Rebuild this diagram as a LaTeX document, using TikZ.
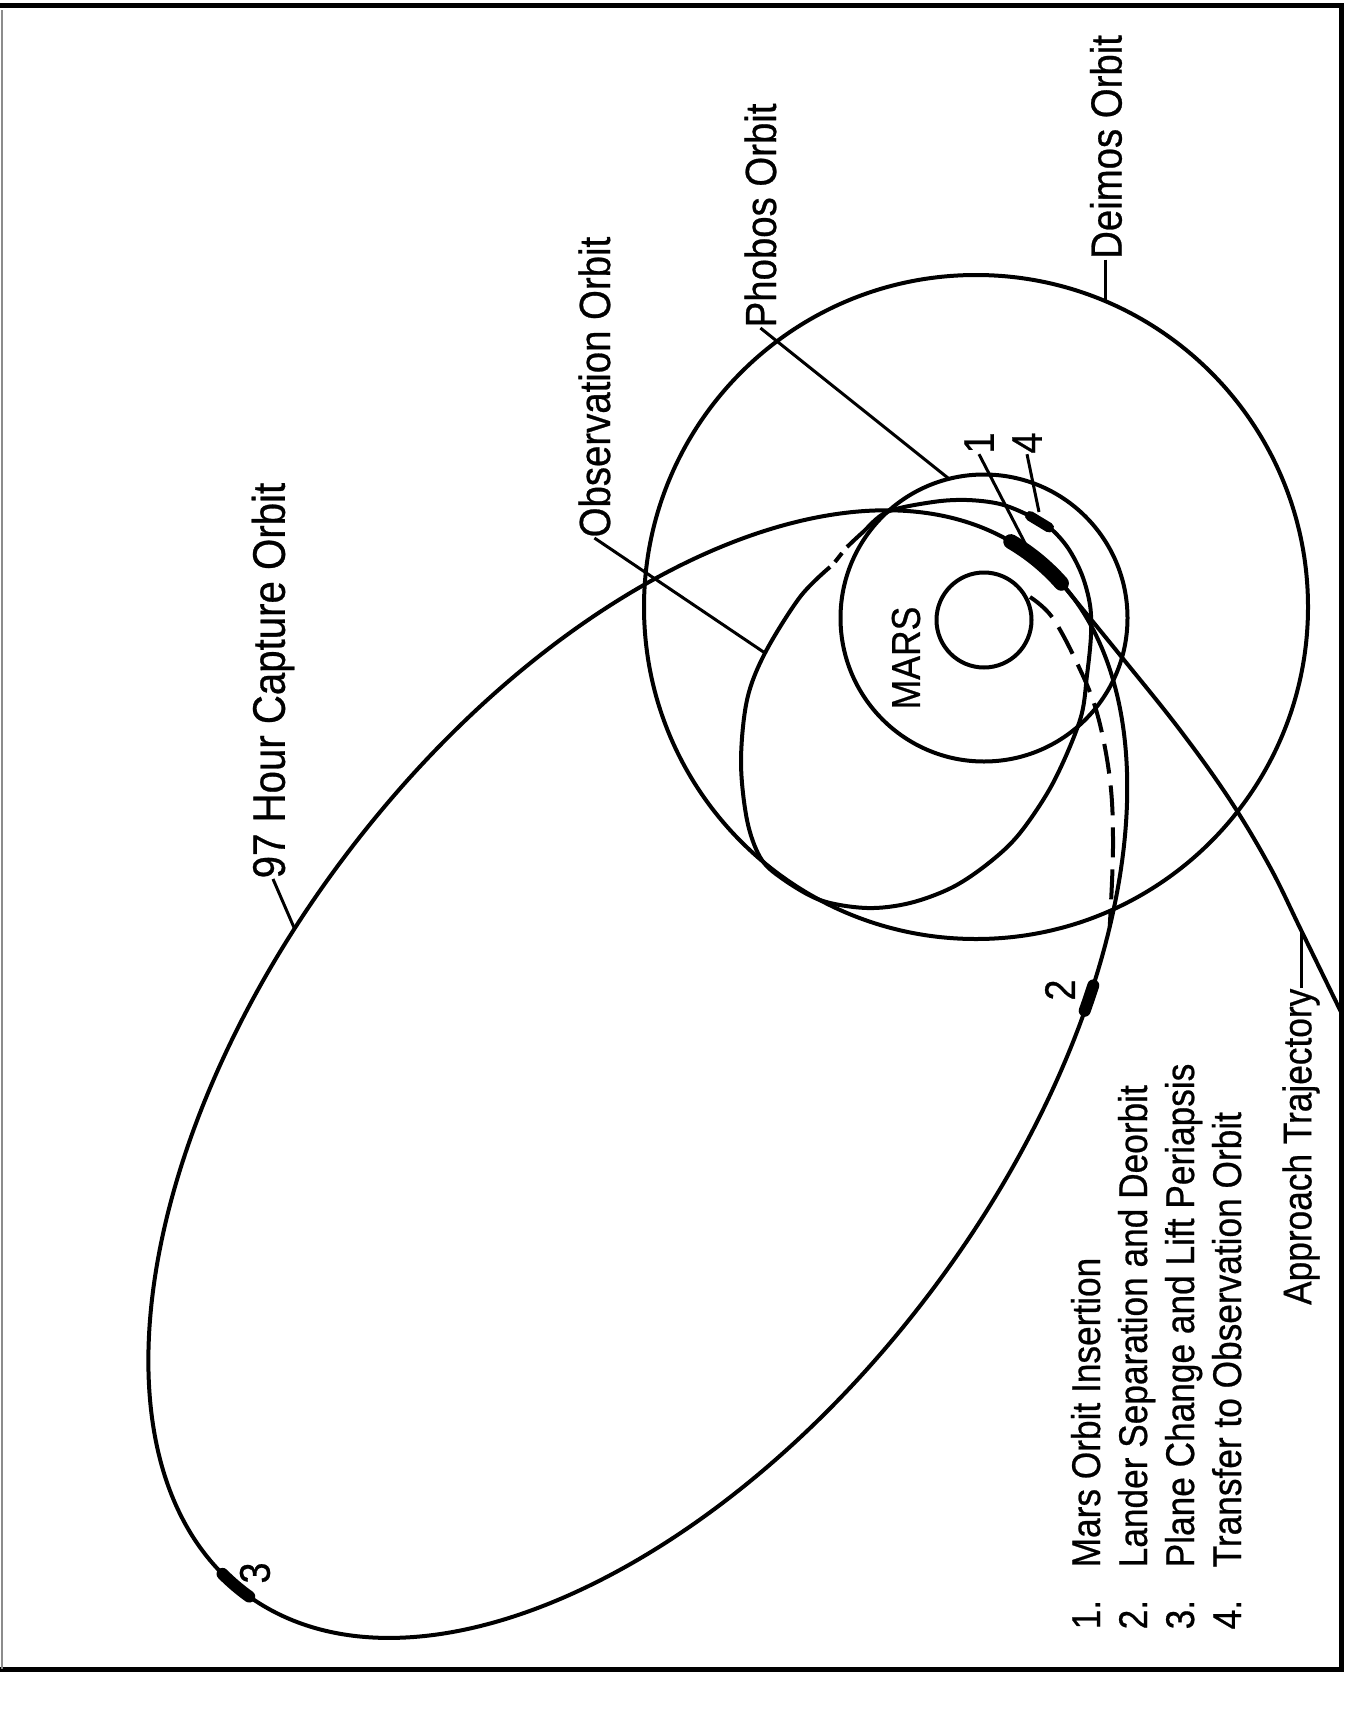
\documentclass[tikz,border=0pt]{standalone}
\usepackage{fontspec}
\setmainfont{Liberation Sans}[FakeStretch=0.88, FakeBold=0.6]
\usepackage{tikz}
\usetikzlibrary{calc, positioning}
\tikzset{
  orbit/.style={line width=0.4mm},
  leader/.style={line width=0.3mm},
  lander/.style={line width=0.4mm, dash pattern=on 3mm off 1.2mm},
  burn/.style={line width=1.2mm, line cap=round},
  lbl/.style={rotate=90, inner sep=0pt, font=\fontsize{12.4pt}{14pt}\selectfont},
  item/.style={rotate=90, inner sep=0pt, anchor=base west, font=\fontsize{11.4pt}{13pt}\selectfont},
  tag/.style={rotate=90, inner sep=0pt, font=\fontsize{12.2pt}{14pt}\selectfont}
}
\begin{document}
\begin{tikzpicture}
  \useasboundingbox (0,0) rectangle (13.58,-17.29);
  \draw[line width=0.5mm] (0,-0.05) -- (13.41,-0.05) -- (13.41,-16.69) -- (0,-16.69);
  \draw[line width=0.15mm, black!45] (0.02,-0.1) -- (0.02,-16.69);

  \coordinate (mars) at (9.84,-6.20);
  \coordinate (phobos) at (9.84,-6.18);
  \coordinate (deimos) at (9.76,-6.07);
  \draw[orbit] (mars) circle (0.475);
  \draw[orbit] (phobos) circle (1.435);
  \draw[orbit] (deimos) circle (3.32);
  \node[rotate=90, inner sep=0pt, font=\fontsize{11.5pt}{13pt}\selectfont] (marsl) at (9.06,-6.58) {MARS};

  \begin{scope}[shift={(6.378,-10.741)}, rotate=52.8]
    \draw[orbit] (0,0) ellipse [x radius=6.512, y radius=3.65];
    \coordinate (c97) at (98.1:6.512 and 3.65);
    \coordinate (b1end) at (-6.4:6.512 and 3.65);
    \coordinate (dend) at (-51.8:6.512 and 3.65);
    \draw[burn, line width=1.5mm] (3.9:6.512 and 3.65) arc[start angle=3.9, end angle=-6.4, x radius=6.512, y radius=3.65];
    \draw[burn] (-57.9:6.512 and 3.65) arc[start angle=-57.9, end angle=-60.5, x radius=6.512, y radius=3.65];
    \draw[burn] (175.5:6.512 and 3.65) arc[start angle=175.5, end angle=181, x radius=6.512, y radius=3.65];
  \end{scope}

  \coordinate (appt) at (13.01,-9.30);
  \draw[orbit] plot[smooth, tension=0.6] coordinates {(b1end) (11.20,-6.55) (11.80,-7.30) (12.30,-8.00) (12.70,-8.67) (appt) (13.41,-10.12)};
  \draw[lander] plot[smooth, tension=0.6] coordinates {(10.30,-5.97) (10.52,-6.17) (10.77,-6.63) (10.97,-7.13) (11.10,-7.80) (11.13,-8.47) (dend)};

  \coordinate (obpt) at (7.65,-6.53);
  \draw[orbit] plot[smooth, tension=0.55] coordinates {(8.47,-5.47) (8.62,-5.33) (8.87,-5.12) (9.33,-5.02) (9.67,-5.00) (10.00,-5.04) (10.28,-5.15) (10.50,-5.28) (10.68,-5.48) (10.82,-5.75) (10.90,-6.05) (10.91,-6.35) (10.87,-6.75) (10.80,-7.20) (10.53,-7.83) (10.20,-8.33) (9.90,-8.62) (9.53,-8.87) (9.10,-9.03) (8.67,-9.08) (8.20,-9.00) (7.80,-8.77) (7.60,-8.57) (7.47,-8.20) (7.41,-7.62) (7.47,-7.00) (obpt) (8.00,-5.97) (8.30,-5.67)};
  \draw[orbit] (8.35,-5.62) -- (8.42,-5.53);
  \draw[burn, line width=1.0mm] (10.30,-5.16) -- (10.49,-5.275);

  \coordinate (b1lead) at (10.27,-5.47);
  \coordinate (b4lead) at (10.39,-5.12);
  \coordinate (dmpt) at ($(deimos)+(66.95:3.32)$);
  \coordinate (phpt) at ($(phobos)+(104.1:1.435)$);

  \node[tag] (t1) at (9.79,-4.43) {1};
  \node[tag] (t4) at (10.27,-4.43) {4};
  \node[tag] (t2) at (10.60,-9.90) {2};
  \node[tag] (t3) at (2.55,-15.73) {3};
  \draw[leader] (t1.west) -- (b1lead);
  \draw[leader] (t4.west) -- (b4lead);

  \node[lbl, anchor=west, font=\fontsize{13pt}{15pt}\selectfont] (cap97l) at (2.73,-8.79) {97 Hour Capture Orbit};
  \node[lbl, anchor=base west] (obsl) at (6.10,-5.38) {Observation Orbit};
  \node[lbl, anchor=base west] (phobl) at (7.76,-3.28) {Phobos Orbit};
  \node[lbl, anchor=west] (deimosl) at ([yshift=4.2mm]dmpt) {Deimos Orbit};
  \draw[leader] (cap97l.west) -- (c97);
  \draw[leader] (obsl.west) -- (obpt);
  \draw[leader] (phobl.west) -- (phpt);
  \draw[leader] (deimosl.west) -- (dmpt);

  \node[item, anchor=east] (appl) at (13.01,-9.88) {Approach Trajectory};
  \draw[leader] (appl.east) -- (appt);

  \foreach \txt [count=\k] in {Mars Orbit Insertion, Lander Separation and Deorbit, Plane Change and Lift Periapsis, Transfer to Observation Orbit} {
    \node[item] (num\k) at ({10.53+0.47*\k},-16.30) {\k.};
    \node[item] (step\k) at ({10.53+0.47*\k},-15.68) {\txt};
  }
\end{tikzpicture}
\end{document}
